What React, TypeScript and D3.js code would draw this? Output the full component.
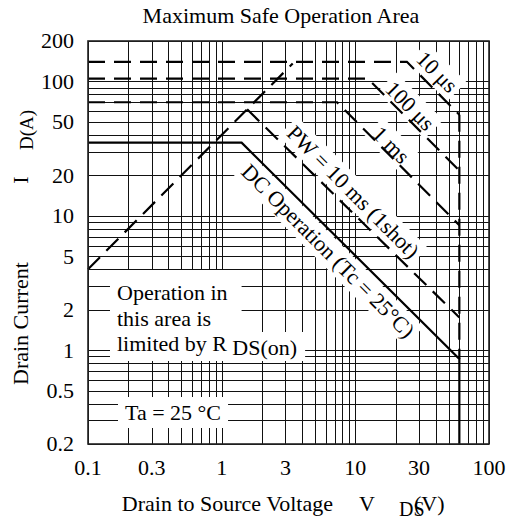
import React, { useEffect, useRef } from 'react';
import * as d3 from 'd3';

const W = 516;
const H = 524;

const xDomain: [number, number] = [0.1, 100];
const yDomain: [number, number] = [0.2, 200];
const xTickValues = [0.1, 0.3, 1, 3, 10, 30, 100];
const xTickLabels = ['0.1', '0.3', '1', '3', '10', '30', '100'];
const yTickValues = [0.2, 0.5, 1, 2, 5, 10, 20, 50, 100, 200];
const yTickLabels = ['0.2', '0.5', '1', '2', '5', '10', '20', '50', '100', '200'];

// Curves: drain-source voltage (V) and drain current (A)
const dcV = [0.1, 1.41, 60, 60];
const dcI = [35, 35, 0.86, 0.2];
const pw10msV = [1.55, 60];
const pw10msI = [62, 1.75];
const pw1msV = [0.1, 7.3, 60];
const pw1msI = [70, 70, 8.5];
const pw100usV = [0.1, 12.4, 60];
const pw100usI = [105, 105, 21.7];
const pw10usV = [0.1, 24.3, 60];
const pw10usI = [140, 140, 56.5];
const vdssV = [60, 60];
const vdssI = [56.5, 0.86];
const rdsV = [0.1, 3.4];
const rdsI = [4, 136];

const curveLabels = ['10 μs', '100 μs', '1 ms', 'PW = 10 ms (1shot)', 'DC Operation (Tc = 25°C)'];

const FONT = "'Liberation Serif', 'Times New Roman', Times, serif";

export default function App() {
  const ref = useRef<SVGSVGElement>(null);

  useEffect(() => {
    const svg = d3.select(ref.current);
    svg.selectAll('*').remove();
    const left = 88, right = 489, top = 41, bottom = 444;
    const x = d3.scaleLog().domain(xDomain).range([left, right]);
    const y = d3.scaleLog().domain(yDomain).range([bottom, top]);

    svg.append('rect').attr('width', W).attr('height', H).attr('fill', '#fff');

    const gridLayer = svg.append('g');
    const haloLayer = svg.append('g');
    const curveLayer = svg.append('g');
    const textLayer = svg.append('g').attr('font-family', FONT).attr('fill', '#000');

    // grid
    gridLayer.selectAll('line.v').data(x.ticks()).join('line')
      .attr('x1', d => Math.round(x(d)) + 0.5).attr('x2', d => Math.round(x(d)) + 0.5)
      .attr('y1', top).attr('y2', bottom)
      .attr('stroke', '#111').attr('stroke-width', 1);
    gridLayer.selectAll('line.h').data(y.ticks()).join('line')
      .attr('y1', d => Math.round(y(d)) + 0.5).attr('y2', d => Math.round(y(d)) + 0.5)
      .attr('x1', left).attr('x2', right)
      .attr('stroke', '#111').attr('stroke-width', 1);

    const line = d3.line<[number, number]>().x(d => x(d[0])).y(d => y(d[1]));
    const pts = (vs: number[], is: number[]) => vs.map((v, k) => [v, is[k]] as [number, number]);

    const dash = '17,9';
    const drawCurve = (vs: number[], is: number[], dashed: boolean) => {
      curveLayer.append('path').attr('d', line(pts(vs, is)))
        .attr('fill', 'none').attr('stroke', '#000').attr('stroke-width', 2.2)
        .attr('stroke-dasharray', dashed ? dash : null);
    };
    drawCurve(rdsV, rdsI, true);
    drawCurve(pw10usV, pw10usI, true);
    drawCurve(pw100usV, pw100usI, true);
    drawCurve(pw1msV, pw1msI, true);
    drawCurve(pw10msV, pw10msI, true);
    drawCurve(vdssV, vdssI, true);
    drawCurve(dcV, dcI, false);

    // frame
    curveLayer.append('rect').attr('x', left).attr('y', top)
      .attr('width', right - left).attr('height', bottom - top)
      .attr('fill', 'none').attr('stroke', '#222').attr('stroke-width', 1.6);

    // title
    textLayer.append('text').attr('x', 281).attr('y', 23).attr('text-anchor', 'middle')
      .attr('font-size', 22).text('Maximum Safe Operation Area');

    // ticks
    textLayer.selectAll('text.xt').data(xTickValues).join('text')
      .attr('x', d => x(d)).attr('y', 475).attr('text-anchor', 'middle')
      .attr('font-size', 22).text((d, k) => xTickLabels[k]);
    textLayer.selectAll('text.yt').data(yTickValues).join('text')
      .attr('x', 74).attr('y', d => y(d)).attr('dy', '0.34em').attr('text-anchor', 'end')
      .attr('font-size', 22).text((d, k) => yTickLabels[k]);

    // x-axis label
    textLayer.append('text').attr('x', 333).attr('y', 511).attr('text-anchor', 'end')
      .attr('font-size', 22).text('Drain to Source Voltage');
    textLayer.append('text').attr('x', 359).attr('y', 511).attr('font-size', 22).text('V');
    textLayer.append('text').attr('x', 399).attr('y', 516).attr('font-size', 20).text('DS');
    textLayer.append('text').attr('x', 414).attr('y', 511).attr('font-size', 22).text('(V)');

    // y-axis label
    const yl = textLayer.append('g').attr('transform', 'translate(28,0) rotate(-90)');
    yl.append('text').attr('x', -385).attr('y', 0).attr('font-size', 22).text('Drain Current');
    yl.append('text').attr('x', -180).attr('y', 0).attr('text-anchor', 'middle').attr('font-size', 22).text('I');
    yl.append('text').attr('x', -150).attr('y', 5).attr('font-size', 19).text('D(A)');

    // "Operation in this area..." block
    const opLines = ['Operation in', 'this area is', 'limited by R'];
    const baselines = [300, 326, 351];
    const widths: number[] = [];
    opLines.forEach((t, k) => {
      const tx = textLayer.append('text').attr('x', 117).attr('y', baselines[k]).attr('font-size', 22).text(t);
      widths.push((tx.node() as SVGTextElement).getBBox().width);
    });
    const sub = textLayer.append('text').attr('x', 117 + widths[2] + 5).attr('y', 355)
      .attr('font-size', 22).text('DS(on)');
    const subBox = (sub.node() as SVGTextElement).getBBox();
    const w12 = Math.max(widths[0], widths[1]);
    haloLayer.append('rect').attr('x', 110).attr('y', 270).attr('width', 117 + w12 + 14 - 110).attr('height', 333 - 270).attr('fill', '#fff');
    haloLayer.append('rect').attr('x', 110).attr('y', 332).attr('width', subBox.x + subBox.width + 8 - 110).attr('height', 361 - 332).attr('fill', '#fff');

    // Ta label
    const ta = textLayer.append('text').attr('x', 125).attr('y', 420).attr('font-size', 22).text('Ta = 25 °C');
    const taBox = (ta.node() as SVGTextElement).getBBox();
    haloLayer.append('rect').attr('x', taBox.x - 7).attr('y', 397)
      .attr('width', taBox.width + 14).attr('height', 31).attr('fill', '#fff');

    // rotated curve labels
    const angle = Math.atan2(y(1) - y(10), x(10) - x(1)) * 180 / Math.PI;
    const centers: [number, number][] = [[437, 72], [410, 106], [391, 145], [353, 192], [328, 251]];
    curveLabels.forEach((t, k) => {
      const [cx, cy] = centers[k];
      const tr = `translate(${cx},${cy}) rotate(${angle})`;
      const gt = textLayer.append('g').attr('transform', tr);
      const tx = gt.append('text').attr('text-anchor', 'middle').attr('dy', '0.33em')
        .attr('font-size', 22).text(t);
      const b = (tx.node() as SVGTextElement).getBBox();
      haloLayer.append('g').attr('transform', tr).append('rect')
        .attr('x', b.x - 4).attr('y', b.y - 1).attr('width', b.width + 8).attr('height', b.height + 2)
        .attr('fill', '#fff');
    });
  }, []);

  return (
    <svg ref={ref} width={W} height={H} style={{ position: 'absolute', left: 0, top: 0 }} />
  );
}
